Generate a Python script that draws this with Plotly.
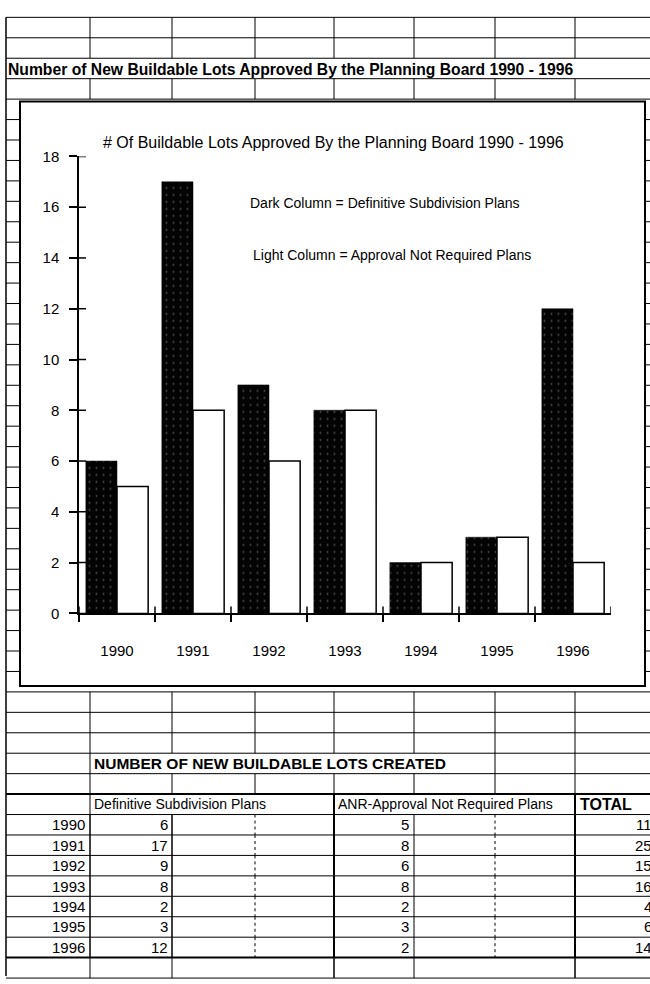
import plotly.graph_objects as go

# ---------------- data ----------------
years = ["1990", "1991", "1992", "1993", "1994", "1995", "1996"]
definitive = [6, 17, 9, 8, 2, 3, 12]
anr = [5, 8, 6, 8, 2, 3, 2]
totals = [11, 25, 15, 16, 4, 6, 14]
y_ticks = [0, 2, 4, 6, 8, 10, 12, 14, 16, 18]

sheet_title = "Number of New Buildable Lots Approved By the Planning Board 1990 - 1996"
chart_title = "# Of Buildable Lots Approved By the Planning Board 1990 - 1996"
note_dark = "Dark Column = Definitive Subdivision Plans"
note_light = "Light Column = Approval Not Required Plans"
table_title = "NUMBER OF NEW BUILDABLE LOTS CREATED"
col_heads = ["Definitive Subdivision Plans", "ANR-Approval Not Required Plans", "TOTAL"]

# ---------------- layout helpers ----------------
W, H = 650, 984
FONT = "Liberation Sans, Arial, Helvetica, sans-serif"


def px(x):
    return x / W


def py(y):
    return 1 - y / H


ROW_H = 20.8
ROW_Y0 = 8.5


def row_line(k):
    return ROW_Y0 + k * ROW_H


def row_mid(k):
    return row_line(k) + ROW_H / 2


cols = [6, 90, 172, 255, 334, 414, 495, 575]

shapes = []


def hline(y, x0=6, x1=652, w=1):
    shapes.append(dict(type="line", xref="paper", yref="paper",
                       x0=px(x0), x1=px(x1), y0=py(y), y1=py(y),
                       line=dict(color="black", width=w), layer="below"))


def vline(x, y0, y1, w=1, dash="solid"):
    shapes.append(dict(type="line", xref="paper", yref="paper",
                       x0=px(x), x1=px(x), y0=py(y0), y1=py(y1),
                       line=dict(color="black", width=w, dash=dash), layer="below"))


# horizontal sheet lines
for k in range(0, 48):
    w = 1
    if k in (38, 46):
        w = 2
    hline(row_line(k), w=w)

# left border full height
vline(6, row_line(0), H, w=1.5)

# vertical lines per row
for k in range(0, 47):
    ya, yb = row_line(k), row_line(k + 1)
    if k == 2:
        continue  # title row, text overflows
    if 4 <= k <= 32:
        continue  # covered by chart
    if k == 36:
        for x in (90, 495, 575):
            vline(x, ya, yb)
        continue
    if k == 38:
        vline(90, ya, yb)
        vline(334, ya, yb, w=2)
        vline(575, ya, yb, w=2)
        continue
    if 39 <= k <= 45:
        vline(90, ya, yb, w=1.5)
        vline(172, ya, yb, w=1.5)
        vline(255, ya, yb, dash="dot")
        vline(334, ya, yb, w=2)
        vline(414, ya, yb)
        vline(495, ya, yb, dash="dot")
        vline(575, ya, yb, w=2)
        continue
    if k == 46:
        for x in (90, 172, 334, 414, 575):
            vline(x, ya, yb, w=1.5 if x in (334, 575) else 1)
        continue
    for x in cols[1:]:
        vline(x, ya, yb)

# chart box (covers grid)
shapes.append(dict(type="rect", xref="paper", yref="paper",
                   x0=px(20), x1=px(645), y0=py(689), y1=py(94),
                   fillcolor="white", line=dict(color="black", width=2), layer="below"))

# plot area geometry
X_LEFT, X_RIGHT = 79, 611
Y_TOP, Y_BOT = 150, 615
xdom = [px(X_LEFT), px(X_RIGHT)]
ydom = [py(Y_BOT), py(Y_TOP)]

# inner halves of crossing ticks
for v in y_ticks:
    shapes.append(dict(type="line", xref="paper", yref="y", xsizemode="pixel",
                       xanchor=xdom[0], x0=0, x1=7, y0=v, y1=v,
                       line=dict(color="black", width=1.5)))
for i in range(len(years) + 1):
    shapes.append(dict(type="line", xref="x", yref="paper", ysizemode="pixel",
                       yanchor=ydom[0], y0=0, y1=7, x0=i - 0.5, x1=i - 0.5,
                       line=dict(color="black", width=1.5)))

fig = go.Figure()
fig.add_trace(go.Bar(
    x=years, y=definitive, name="Definitive Subdivision Plans",
    marker=dict(color="#030303",
                line=dict(color="black", width=0.5),
                pattern=dict(shape=".", fgcolor="#9a9a9a", bgcolor="#030303",
                             size=7, solidity=0.06)),
    showlegend=False,
))
fig.add_trace(go.Bar(
    x=years, y=anr, name="Approval Not Required Plans",
    marker=dict(color="white", line=dict(color="black", width=1.5)),
    showlegend=False,
))

annotations = []


def text(x, y, s, size=13, bold=False, xanchor="left"):
    annotations.append(dict(xref="paper", yref="paper", x=px(x), y=py(y),
                            text=("<b>%s</b>" % s) if bold else s,
                            showarrow=False, xanchor=xanchor, yanchor="middle",
                            font=dict(family=FONT, size=size, color="black")))


text(6, row_mid(2) + 1, sheet_title, size=15.7, bold=True)
text(333, 136, chart_title, size=16, xanchor="center")
text(248, 197, note_dark, size=14)
text(251, 250, note_light, size=14)
text(92, row_mid(36), table_title, size=15.5, bold=True)
text(92, row_mid(38), col_heads[0], size=14)
text(336, row_mid(38), col_heads[1], size=14)
text(578, row_mid(38), col_heads[2], size=16, bold=True)
for i, yr in enumerate(years):
    k = 39 + i
    text(87, row_mid(k), yr, size=15, xanchor="right")
    text(170, row_mid(k), str(definitive[i]), size=15, xanchor="right")
    text(411, row_mid(k), str(anr[i]), size=15, xanchor="right")
    text(654, row_mid(k), str(totals[i]), size=15, xanchor="right")

fig.update_layout(
    width=W, height=H, autosize=False,
    margin=dict(l=0, r=0, t=0, b=0),
    paper_bgcolor="white", plot_bgcolor="rgba(0,0,0,0)",
    barmode="group", bargap=0.18, bargroupgap=0,
    font=dict(family=FONT, size=15, color="black"),
    shapes=shapes, annotations=annotations,
    xaxis=dict(domain=xdom, range=[-0.5, len(years) - 0.5], type="category",
               showline=True, linecolor="black", linewidth=1.5,
               ticks="outside", ticklen=7, tickwidth=1.5, tickcolor="black",
               tickson="boundaries", showgrid=False, zeroline=False,
               ticklabelstandoff=23, tickfont=dict(size=15, family=FONT)),
    yaxis=dict(domain=ydom, range=[0, 18], tickvals=y_ticks,
               showline=True, linecolor="black", linewidth=1.5,
               ticks="outside", ticklen=8, tickwidth=1.5, tickcolor="black",
               showgrid=False, zeroline=False,
               ticklabelstandoff=7, tickfont=dict(size=15, family=FONT)),
)

fig.write_html(
    "out.html",
    config={"displayModeBar": False},
    post_script="document.body.style.margin='0';document.body.style.overflow='hidden';",
)
